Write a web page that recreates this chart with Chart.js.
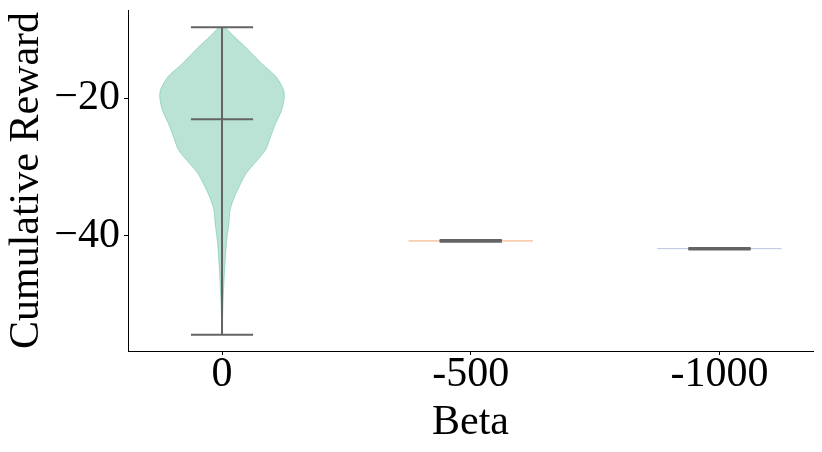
<!DOCTYPE html>
<html>
<head>
<meta charset="utf-8">
<script src="https://cdn.jsdelivr.net/npm/chart.js@4.4.1/dist/chart.umd.min.js"></script>
<style>
  html, body { margin: 0; padding: 0; background: #fff; }
  #wrap { width: 822px; height: 452px; position: relative; }
</style>
</head>
<body>
<div id="wrap"><canvas id="chart"></canvas></div>
<script>
// data
const categories = ['0', '-500', '-1000'];
const catMax = [-9.7, -40.6, -41.75];
const catMin = [-54.35, -40.85, -41.95];
const catMean = [-23.05, -40.72, -41.84];
const yTicks = [-40, -20];

// density profile of the "0" violin (relative, 1 = widest)
const profileValues = [-9.7, -11.1, -12.6, -15.0, -16.9, -18.8, -20.0, -21.7, -23.7, -25.6, -27.5, -29.5, -30.9, -32.4, -34.3, -36.2, -38.2, -41.1, -45.9, -50.7, -54.35];
const profileDensity = [0.05, 0.2, 0.38, 0.64, 0.87, 0.99, 1, 0.96, 0.86, 0.78, 0.70, 0.52, 0.39, 0.30, 0.2, 0.13, 0.11, 0.07, 0.035, 0.012, 0];

const HALF = 0.25;      // violin half width
const CAP = 0.125;      // cap half width
const GRAY = '#646464';
const FONT = 'Liberation Serif';

const bodyColors = ['rgba(102,194,165,0.45)', 'rgba(252,141,98,0.45)', 'rgba(141,160,203,0.45)'];
const edgeColors = ['rgba(102,194,165,0.55)', 'rgba(245,160,110,0.9)', 'rgba(160,170,215,0.7)'];

const datasets = [];

// violin "0": closed outline, right side going down then left side back up
const right = profileValues.map((v, i) => ({ x: profileDensity[i] * HALF, y: v }));
const left = profileValues.map((v, i) => ({ x: -profileDensity[i] * HALF, y: v })).reverse();
datasets.push({
  data: right.concat(left), order: 2,
  showLine: true, fill: 'shape', tension: 0.25,
  backgroundColor: bodyColors[0], borderColor: edgeColors[0], borderWidth: 1,
  pointRadius: 0
});

// the other two are flat (all values equal) -> a single line
for (let i = 1; i < categories.length; i++) {
  datasets.push({
    data: [{ x: i - HALF, y: catMean[i] }, { x: i + HALF, y: catMean[i] }], order: 2,
    showLine: true, borderColor: edgeColors[i], borderWidth: 1, pointRadius: 0
  });
}

// whiskers and caps
categories.forEach((c, i) => {
  datasets.push({
    data: [{ x: i, y: catMax[i] }, { x: i, y: catMin[i] }], order: 1,
    showLine: true, borderColor: GRAY, borderWidth: 2, pointRadius: 0
  });
  [catMax[i], catMin[i], catMean[i]].forEach(v => {
    datasets.push({
      data: [{ x: i - CAP, y: v }, { x: i + CAP, y: v }], order: 1,
      showLine: true, borderColor: GRAY, borderWidth: 2, pointRadius: 0
    });
  });
});

const noPad = s => { s.paddingTop = 0; s.paddingBottom = 0; s.paddingLeft = 0; s.paddingRight = 0; };

new Chart(document.getElementById('chart'), {
  type: 'scatter',
  data: { datasets },
  options: {
    responsive: true, maintainAspectRatio: false, animation: false,
    layout: { padding: { top: 10, right: 9, left: 0, bottom: 0 } },
    plugins: { legend: { display: false }, tooltip: { enabled: false } },
    scales: {
      x: {
        type: 'linear', min: -0.378, max: 2.376,
        afterBuildTicks: s => { s.ticks = categories.map((c, i) => ({ value: i })); },
        afterFit: s => { s.height = 101; noPad(s); },
        grid: { drawOnChartArea: false, drawTicks: true, tickLength: 4, color: '#000' },
        border: { display: true, color: '#000', width: 1 },
        ticks: { color: '#000', font: { family: FONT, size: 42 }, padding: -5,
                 callback: v => categories[Math.round(v)] },
        title: { display: true, text: 'Beta', color: '#000', font: { family: FONT, size: 42 }, padding: { top: 0, bottom: 4 } }
      },
      y: {
        type: 'linear', min: -56.7, max: -7.2,
        afterBuildTicks: s => { s.ticks = yTicks.map(v => ({ value: v })); },
        afterFit: s => { s.width = 128; noPad(s); },
        grid: { drawOnChartArea: false, drawTicks: true, tickLength: 4, color: '#000' },
        border: { display: true, color: '#000', width: 1 },
        ticks: { color: '#000', font: { family: FONT, size: 42 }, padding: 4,
                 callback: v => '\u2212' + Math.abs(v) },
        title: { display: true, text: 'Cumulative Reward', color: '#000', font: { family: FONT, size: 42 }, padding: { top: 2, bottom: 0 } }
      }
    }
  }
});
</script>
</body>
</html>
